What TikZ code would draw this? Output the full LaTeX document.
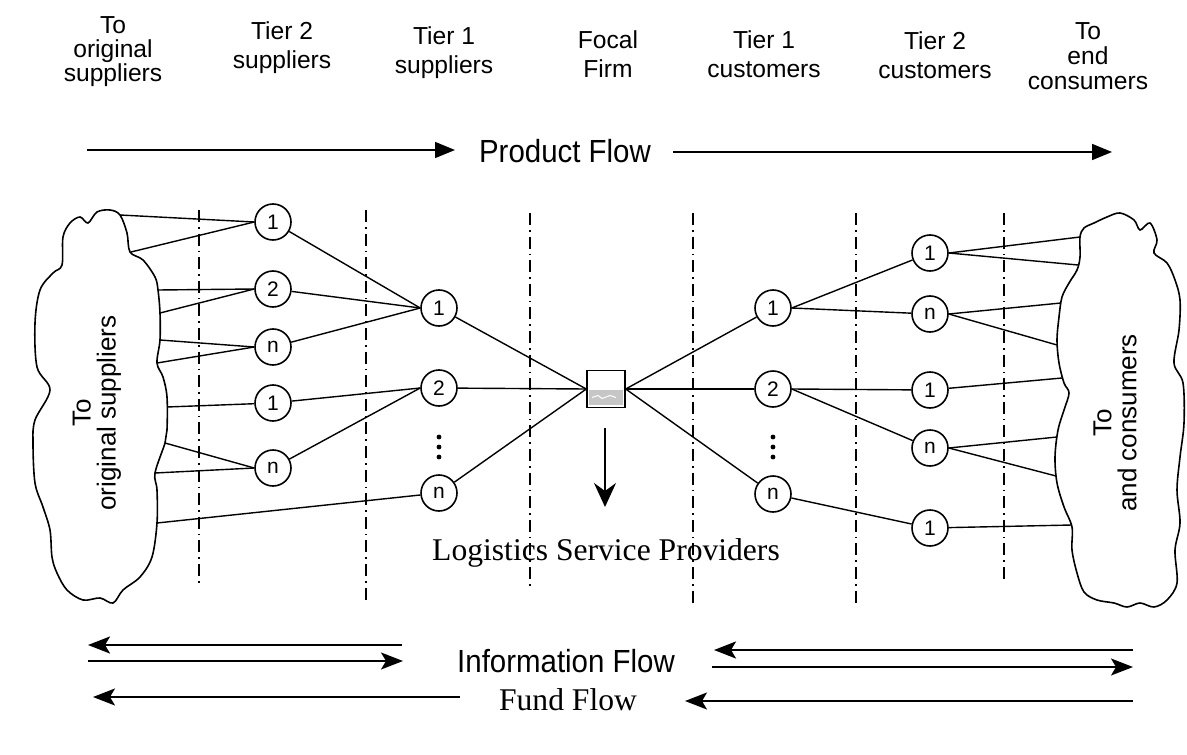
\documentclass[tikz,border=0pt]{standalone}
\usepackage{fontspec}
\setmainfont{Liberation Sans}
\newfontfamily\serifface{Liberation Serif}
\newfontfamily\narrowface[FakeStretch=0.92]{Liberation Sans}
\usetikzlibrary{arrows.meta}

\begin{document}
\begin{tikzpicture}[
			x=0.5pt, y=-0.5pt,
			every node/.style={font=\fontsize{12.3}{14.5}\selectfont},
			header/.style={align=center, inner sep=0pt},
			tiernode/.style={circle, draw, line width=0.8pt, minimum size=18pt, inner sep=0pt, font=\fontsize{10.5}{11}\selectfont},
			firm/.style={rectangle, draw, line width=0.7pt, minimum width=19pt, minimum height=18.5pt, inner sep=0pt},
			link/.style={line width=0.7pt},
			tierline/.style={line width=0.6pt, dash pattern=on 6pt off 2.5pt on 0.8pt off 2.5pt},
			cloudline/.style={line width=0.8pt, smooth cycle, tension=0.55},
			cloudtext/.style={rotate=90, align=center, inner sep=0pt, font=\fontsize{13}{12.5}\selectfont},
			flowtext/.style={inner sep=0pt, font=\narrowface\fontsize{16}{18}\selectfont},
			flowarrow/.style={-{Triangle[length=10pt,width=8pt]}, line width=0.8pt},
			backarrow/.style={-{Stealth[length=11pt,width=8.5pt,inset=2.5pt]}, line width=0.8pt}
			]

			\useasboundingbox (0,0) rectangle (1187,754);

			% column headings
			\node[header, font=\fontsize{12.3}{12}\selectfont] (hos) at (113,52) {To\\original\\suppliers};
			\node[header] (hs2) at (282,48) {Tier 2\\suppliers};
			\node[header] (hs1) at (444,53) {Tier 1\\suppliers};
			\node[header] (hff) at (608,54) {Focal\\Firm};
			\node[header] (hc1) at (764,54) {Tier 1\\customers};
			\node[header] (hc2) at (935,55) {Tier 2\\customers};
			\node[header, font=\fontsize{12.3}{12.5}\selectfont] (hec) at (1088,56) {To\\end\\consumers};

			% product flow
			\node[flowtext] (pflow) at (565,151) {Product Flow};
			\coordinate (pfa) at (87,150);
			\coordinate (pfb) at (455,150);
			\coordinate (pfc) at (673,152);
			\coordinate (pfd) at (1112,152);
			\draw[flowarrow] (pfa) -- (pfb);
			\draw[flowarrow] (pfc) -- (pfd);

			% tier separators
			\draw[tierline] (199,210) -- (199,583);
			\draw[tierline] (366,210) -- (366,603);
			\draw[tierline] (530,213) -- (530,587);
			\draw[tierline] (693,213) -- (693,607);
			\draw[tierline] (856,213) -- (856,607);
			\draw[tierline] (1004,213) -- (1004,583);

			% clouds
			\draw[cloudline] plot coordinates {(63,237) (70,223) (80,217) (88,223) (97,212) (110,210) (120,215) (127,233) (130,252) (143,260) (155,277) (158,290) (160,313) (160,340) (157,363) (163,377) (167,397) (167,430) (165,443) (155,473) (157,490) (157,523) (152,557) (140,577) (123,590) (113,603) (100,598) (83,600) (67,590) (57,573) (52,557) (50,530) (43,507) (35,483) (33,443) (35,420) (50,390) (37,367) (35,323) (40,290) (53,273) (62,265)};
			\draw[cloudline] plot coordinates {(1080,237) (1084,228) (1094,223) (1107,217) (1120,213) (1134,220) (1140,230) (1150,223) (1157,240) (1154,253) (1167,263) (1175,280) (1180,300) (1179,330) (1174,363) (1183,383) (1184,423) (1180,457) (1177,490) (1180,523) (1175,550) (1177,583) (1167,600) (1154,607) (1140,603) (1127,607) (1114,603) (1097,600) (1084,592) (1077,573) (1072,550) (1072,527) (1064,507) (1057,483) (1055,457) (1058,430) (1064,410) (1069,393) (1064,383) (1059,363) (1057,340) (1059,317) (1062,297) (1069,283) (1077,270) (1080,257)};
			\node[cloudtext] (ostext) at (97,413) {To\\original suppliers};
			\node[cloudtext] (ectext) at (1115,423) {To\\and consumers};

			\coordinate (lc1) at (120,215);
			\coordinate (lc2) at (131,252);
			\coordinate (lc3) at (158,290);
			\coordinate (lc4) at (160,313);
			\coordinate (lc5) at (160,340);
			\coordinate (lc6) at (157,363);
			\coordinate (lc7) at (167,407);
			\coordinate (lc8) at (165,443);
			\coordinate (lc9) at (155,473);
			\coordinate (lc10) at (157,523);
			\coordinate (rc1) at (1080,237);
			\coordinate (rc2) at (1078,265);
			\coordinate (rc3) at (1061,303);
			\coordinate (rc4) at (1057,345);
			\coordinate (rc5) at (1062,378);
			\coordinate (rc6) at (1057,437);
			\coordinate (rc7) at (1056,476);
			\coordinate (rc8) at (1072,525);

			% tier 2 suppliers
			\node[tiernode] (s2a) at (273,222) {1};
			\node[tiernode] (s2b) at (273,289) {2};
			\node[tiernode] (s2c) at (273,347) {n};
			\node[tiernode] (s2d) at (273,403) {1};
			\node[tiernode] (s2e) at (273,468) {n};

			% tier 1 suppliers
			\node[tiernode] (s1a) at (439,308) {1};
			\node[tiernode] (s1b) at (439,388) {2};
			\node[tiernode] (s1c) at (439,493) {n};

			% focal firm
			\node[firm, path picture={
				\fill[gray!45] ([shift={(1.2pt,1.2pt)}]path picture bounding box.south west) rectangle ([shift={(-1.2pt,-9.5pt)}]path picture bounding box.north east);
				\draw[white, line width=0.5pt] ([shift={(2.5pt,5pt)}]path picture bounding box.south west) -- ++(3pt,1pt) -- ++(2pt,-1.5pt) -- ++(4pt,1.5pt) -- ++(3pt,-1pt);
			}] (focal) at (606,389) {};

			% tier 1 customers
			\node[tiernode] (c1a) at (773,308) {1};
			\node[tiernode] (c1b) at (773,389) {2};
			\node[tiernode] (c1c) at (773,494) {n};

			% more nodes in between
			\foreach \dy in {437,447,457} {
				\fill (439,\dy) circle (1.2pt);
				\fill (773,\dy) circle (1.2pt);
			}

			% tier 2 customers
			\node[tiernode] (c2a) at (930,253) {1};
			\node[tiernode] (c2b) at (930,314) {n};
			\node[tiernode] (c2c) at (930,390) {1};
			\node[tiernode] (c2d) at (930,448) {n};
			\node[tiernode] (c2e) at (930,528) {1};

			% links
			\draw[link] (lc1) -- (s2a.west);
			\draw[link] (lc2) -- (s2a.west);
			\draw[link] (lc3) -- (s2b.west);
			\draw[link] (lc4) -- (s2b.west);
			\draw[link] (lc5) -- (s2c.west);
			\draw[link] (lc6) -- (s2c.west);
			\draw[link] (lc7) -- (s2d);
			\draw[link] (lc8) -- (s2e.west);
			\draw[link] (lc9) -- (s2e.west);
			\draw[link] (lc10) -- (s1c);

			\draw[link] (s2a) -- (s1a.west);
			\draw[link] (s2b) -- (s1a.west);
			\draw[link] (s2c) -- (s1a.west);
			\draw[link] (s2d) -- (s1b.west);
			\draw[link] (s2e) -- (s1b.west);

			\draw[link] (s1a) -- (focal.west);
			\draw[link] (s1b) -- (focal.west);
			\draw[link] (s1c) -- (focal.west);
			\draw[link] (focal.east) -- (c1a);
			\draw[link] (focal.east) -- (c1b);
			\draw[link] (focal.east) -- (c1c);

			\draw[link] (c1a.east) -- (c2a);
			\draw[link] (c1a.east) -- (c2b);
			\draw[link] (c1b.east) -- (c2c);
			\draw[link] (c1b.east) -- (c2d);
			\draw[link] (c1c) -- (c2e);

			\draw[link] (c2a.east) -- (rc1);
			\draw[link] (c2a.east) -- (rc2);
			\draw[link] (c2b.east) -- (rc3);
			\draw[link] (c2b.east) -- (rc4);
			\draw[link] (c2c) -- (rc5);
			\draw[link] (c2d.east) -- (rc6);
			\draw[link] (c2d.east) -- (rc7);
			\draw[link] (c2e) -- (rc8);

			% logistics service providers
			\node[inner sep=0pt, font=\serifface\fontsize{15.8}{18}\selectfont] (lsp) at (606,553) {Logistics Service Providers};
			\coordinate (lspa) at (605,428);
			\coordinate (lspb) at (605,507);
			\draw[-{Stealth[length=12pt,width=11pt,inset=4pt]}, line width=1pt] (lspa) -- (lspb);

			% information and fund flow
			\node[flowtext] (iflow) at (566,661) {Information Flow};
			\node[inner sep=0pt, font=\serifface\fontsize{15.8}{18}\selectfont] (fflow) at (568,700) {Fund Flow};
			\coordinate (ila) at (402,645);
			\coordinate (ilb) at (88,645);
			\coordinate (ilc) at (88,661);
			\coordinate (ild) at (403,661);
			\coordinate (ira) at (1133,650);
			\coordinate (irb) at (714,650);
			\coordinate (irc) at (712,667);
			\coordinate (ird) at (1133,667);
			\coordinate (fla) at (460,697);
			\coordinate (flb) at (93,697);
			\coordinate (fra) at (1133,701);
			\coordinate (frb) at (685,701);
			\draw[backarrow, line width=1.3pt] (ila) -- (ilb);
			\draw[backarrow] (ilc) -- (ild);
			\draw[backarrow, line width=1.3pt] (ira) -- (irb);
			\draw[backarrow] (irc) -- (ird);
			\draw[backarrow] (fla) -- (flb);
			\draw[backarrow] (fra) -- (frb);

		\end{tikzpicture}
\end{document}
